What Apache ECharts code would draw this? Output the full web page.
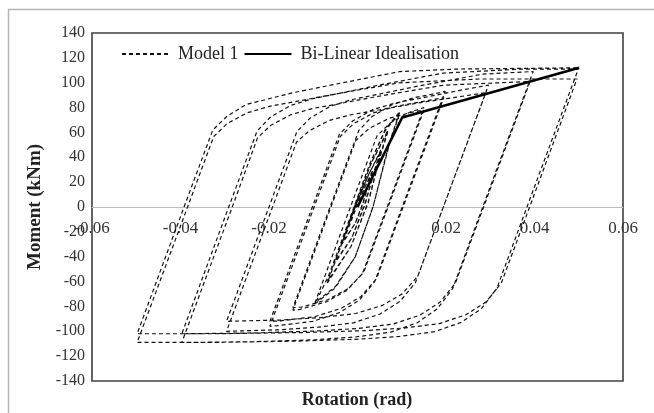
<!DOCTYPE html>
<html><head><meta charset="utf-8">
<script src="https://cdn.jsdelivr.net/npm/echarts@6/dist/echarts.min.js"></script>
<style>html,body{margin:0;padding:0;background:#fff}#c{width:654px;height:413px}</style>
</head><body><div id="c"></div>
<script>
// Tick labels
const xTickLabels = ['-0.06','-0.04','-0.02','0','0.02','0.04','0.06'];
const yTickLabels = ['-140','-120','-100','-80','-60','-40','-20','0','20','40','60','80','100','120','140'];

// Model 1 hysteresis path (rotation rad, moment kNm)
const smallCycles = [
 [0,0],[0.0018,17],[0.0035,30],
 [0.0024,18],[0.0012,3],[-0.0005,-13],[-0.0035,-30],
 [-0.0015,-12],[0.0001,3],[0.0018,17],[0.0035,29],
 [0.0024,17],[0.0012,2],[-0.0005,-13],[-0.0035,-29],
 [-0.0028,-22],[-0.0003,2],[0.0025,26],[0.0053,46],
 [0.0036,27],[0.0017,3],[-0.0013,-25],[-0.0053,-46],
 [-0.0028,-22],[-0.0003,2],[0.0025,26],[0.0053,45],
 [0.0036,26],[0.0017,2],[-0.0013,-25],[-0.0053,-45],
 [-0.004,-34],[-0.0006,1],[0.0032,36],[0.0069,62],
 [0.005,40],[0.0024,4],[-0.0015,-32],[-0.0068,-61],
 [-0.004,-34],[-0.0006,1],[0.0032,36],[0.0069,61],
 [0.005,39],[0.0024,3],[-0.0015,-32],[-0.0068,-60]
];
const cycle10 = [
 [-0.0044,-35],[-0.0008,0],[0.0028,35],[0.0062,62],[0.0096,77],
 [0.0075,55],[0.0062,38],[0.0035,0],[-0.0005,-40],[-0.005,-65],[-0.0096,-78],
 [-0.0065,-55],[-0.0044,-35],[-0.0008,0],[0.0028,35],[0.0062,61],[0.0096,76],
 [0.0075,54],[0.0062,37],[0.0035,0],[-0.0005,-40],[-0.005,-64],[-0.0096,-77]
];
const cycle15 = [
 [-0.0016,0],[0.0044,57.2],[0.0074,67.6],[0.0119,76.4],[0.015,80],
 [0.0067,0],[0.0011,-53.7],[-0.0024,-67.1],[-0.0069,-76.1],[-0.0129,-82.3],[-0.0146,-83],
 [-0.006,0],[-0.0004,53.4],[0.0026,63.1],[0.0071,71.3],[0.0121,76.1],[0.015,78],
 [0.0069,0],[0.0014,-52.5],[-0.0021,-65.6],[-0.0066,-74.4],[-0.0126,-80.5],[-0.0146,-81]
];
const cycle20 = [
 [-0.0062,0],[0.0003,61.6],[0.0033,72.8],[0.0078,82.3],[0.0128,87.9],[0.0183,91.8],[0.0198,93],
 [0.0101,0],[0.0039,-60],[0.0004,-75],[-0.0041,-85],[-0.0101,-92],[-0.0181,-95.5],[-0.0198,-96],
 [-0.0098,0],[-0.0039,56.7],[-0.0009,67],[0.0036,75.7],[0.0086,80.9],[0.0141,84.5],[0.0195,88],
 [0.0103,0],[0.0043,-57.6],[0.0008,-72],[-0.0037,-81.6],[-0.0097,-88.3],[-0.0177,-91.7],[-0.0198,-92]
];
const cycle30 = [
 [-0.0102,0],[-0.0041,58.6],[-0.0011,69.2],[0.0034,78.3],[0.0084,83.6],[0.0139,87.3],[0.0229,93.7],[0.0296,98],
 [0.0194,0],[0.0131,-60.8],[0.0096,-76],[0.0051,-86.1],[-0.0009,-93.2],[-0.0089,-96.7],[-0.0179,-98.8],[-0.0296,-100],
 [-0.0192,0],[-0.0138,52.1],[-0.0108,61.6],[-0.0063,69.7],[-0.0013,74.4],[0.0042,77.7],[0.0132,83.4],[0.029,92],
 [0.0194,0],[0.0136,-55.9],[0.0101,-69.9],[0.0056,-79.2],[-0.0004,-85.7],[-0.0084,-89],[-0.0174,-90.9],[-0.0296,-92]
];
const cycle40 = [
 [-0.02,0],[-0.0137,60.6],[-0.0107,71.6],[-0.0062,81],[-0.0012,86.5],[0.0043,90.4],[0.0133,97],[0.0283,106.9],[0.0397,109],
 [0.0283,0],[0.0215,-65.7],[0.018,-82.1],[0.0135,-93.1],[0.0075,-100.7],[-0.0005,-104.6],[-0.0095,-106.8],[-0.0235,-108.4],[-0.0397,-109],
 [-0.0283,0],[-0.0226,55.6],[-0.0196,65.7],[-0.0151,74.2],[-0.0101,79.3],[-0.0046,82.8],[0.0044,88.9],[0.0194,98],[0.039,101],
 [0.0285,0],[0.0221,-61.4],[0.0186,-76.7],[0.0141,-87],[0.0081,-94.1],[0.0001,-97.7],[-0.0089,-99.7],[-0.0229,-101.3],[-0.0397,-102]
];
const cycle50 = [
 [-0.0291,0],[-0.0227,61.1],[-0.0197,72.2],[-0.0152,81.6],[-0.0102,87.1],[-0.0047,91],[0.0043,97.7],[0.0193,107.7],[0.0373,111],[0.0499,111],
 [0.0383,0],[0.0315,-65.4],[0.028,-81.8],[0.0235,-92.7],[0.0175,-100.3],[0.0095,-104.1],[0.0005,-106.3],[-0.0135,-107.9],[-0.0335,-109],[-0.0498,-109],
 [-0.0384,0],[-0.0325,56.7],[-0.0295,67],[-0.025,75.7],[-0.02,80.9],[-0.0145,84.5],[-0.0055,90.6],[0.0095,99.9],[0.0275,103],[0.0496,103],
 [0.0389,0],[0.0325,-61.2],[0.029,-76.5],[0.0245,-86.7],[0.0185,-93.8],[0.0105,-97.4],[0.0015,-99.5],[-0.0125,-101],[-0.0325,-102],[-0.0498,-102],
 [-0.0392,0],[-0.0327,62],[-0.0295,73],[-0.0252,82.4],[-0.0148,91.8],[-0.0054,98.5],[0.0096,109],[0.0228,111],[0.0501,112]
];
// Bi-linear idealisation
const bilinear = [[0,0],[0.0101,72],[0.0501,112]];

const model1 = [].concat(smallCycles, cycle10, cycle15, cycle20, cycle30, cycle40, cycle50);

const FONT = '"Liberation Serif","Times New Roman",serif';
const chart = echarts.init(document.getElementById('c'), null, {renderer:'canvas'});
chart.setOption({
  animation:false,
  backgroundColor:'#fff',
  grid:{left:92,right:31,top:33,bottom:32,show:true,borderColor:'#404040',borderWidth:1.6,backgroundColor:'transparent'},
  legend:{
    left:116, top:40, itemWidth:47, itemHeight:14, itemGap:5,
    itemStyle:{color:'rgba(0,0,0,0)',borderColor:'rgba(0,0,0,0)',borderWidth:0},
    textStyle:{fontFamily:FONT,fontSize:18,color:'#222',padding:[0,0,0,4]},
    data:['Model 1','Bi-Linear Idealisation']
  },
  xAxis:{
    type:'value', min:-0.06, max:0.06, interval:0.02,
    position:'bottom', offset:-174,
    axisLine:{onZero:false,lineStyle:{color:'#bdbdbd',width:1}},
    axisTick:{show:false}, splitLine:{show:false},
    axisLabel:{fontFamily:FONT,fontSize:17,color:'#333',margin:13,
      formatter:v=>{const i=Math.round((v+0.06)/0.02);return i===3?'':xTickLabels[i];}}
  },
  yAxis:{
    type:'value', min:-140, max:140, interval:20,
    name:'Moment (kNm)', nameLocation:'middle', nameGap:45, nameRotate:90,
    nameTextStyle:{fontFamily:FONT,fontSize:19,fontWeight:'bold',color:'#222'},
    axisLine:{show:false}, axisTick:{show:false}, splitLine:{show:false},
    axisLabel:{fontFamily:FONT,fontSize:16,color:'#333',margin:7,
      formatter:v=>yTickLabels[Math.round((v+140)/20)]}
  },
  graphic:[
    {type:'rect',shape:{x:8.5,y:9.5,width:700,height:500},style:{fill:'none',stroke:'#b5b5b5',lineWidth:1.5},silent:true},
    {type:'text',x:357,y:400,style:{text:'Rotation (rad)',font:'bold 18px "Liberation Serif","Times New Roman",serif',fill:'#222',textAlign:'center',textVerticalAlign:'middle'}}
  ],
  series:[
    {name:'Model 1',type:'line',data:model1,showSymbol:false,symbol:'none',smooth:false,
     lineStyle:{color:'#111',width:1.2,type:[4,3]},itemStyle:{color:'#111'},z:2},
    {name:'Bi-Linear Idealisation',type:'line',data:bilinear,showSymbol:false,symbol:'none',
     lineStyle:{color:'#000',width:2.6,type:'solid'},itemStyle:{color:'#000'},z:3}
  ]
});
</script>
</body></html>
